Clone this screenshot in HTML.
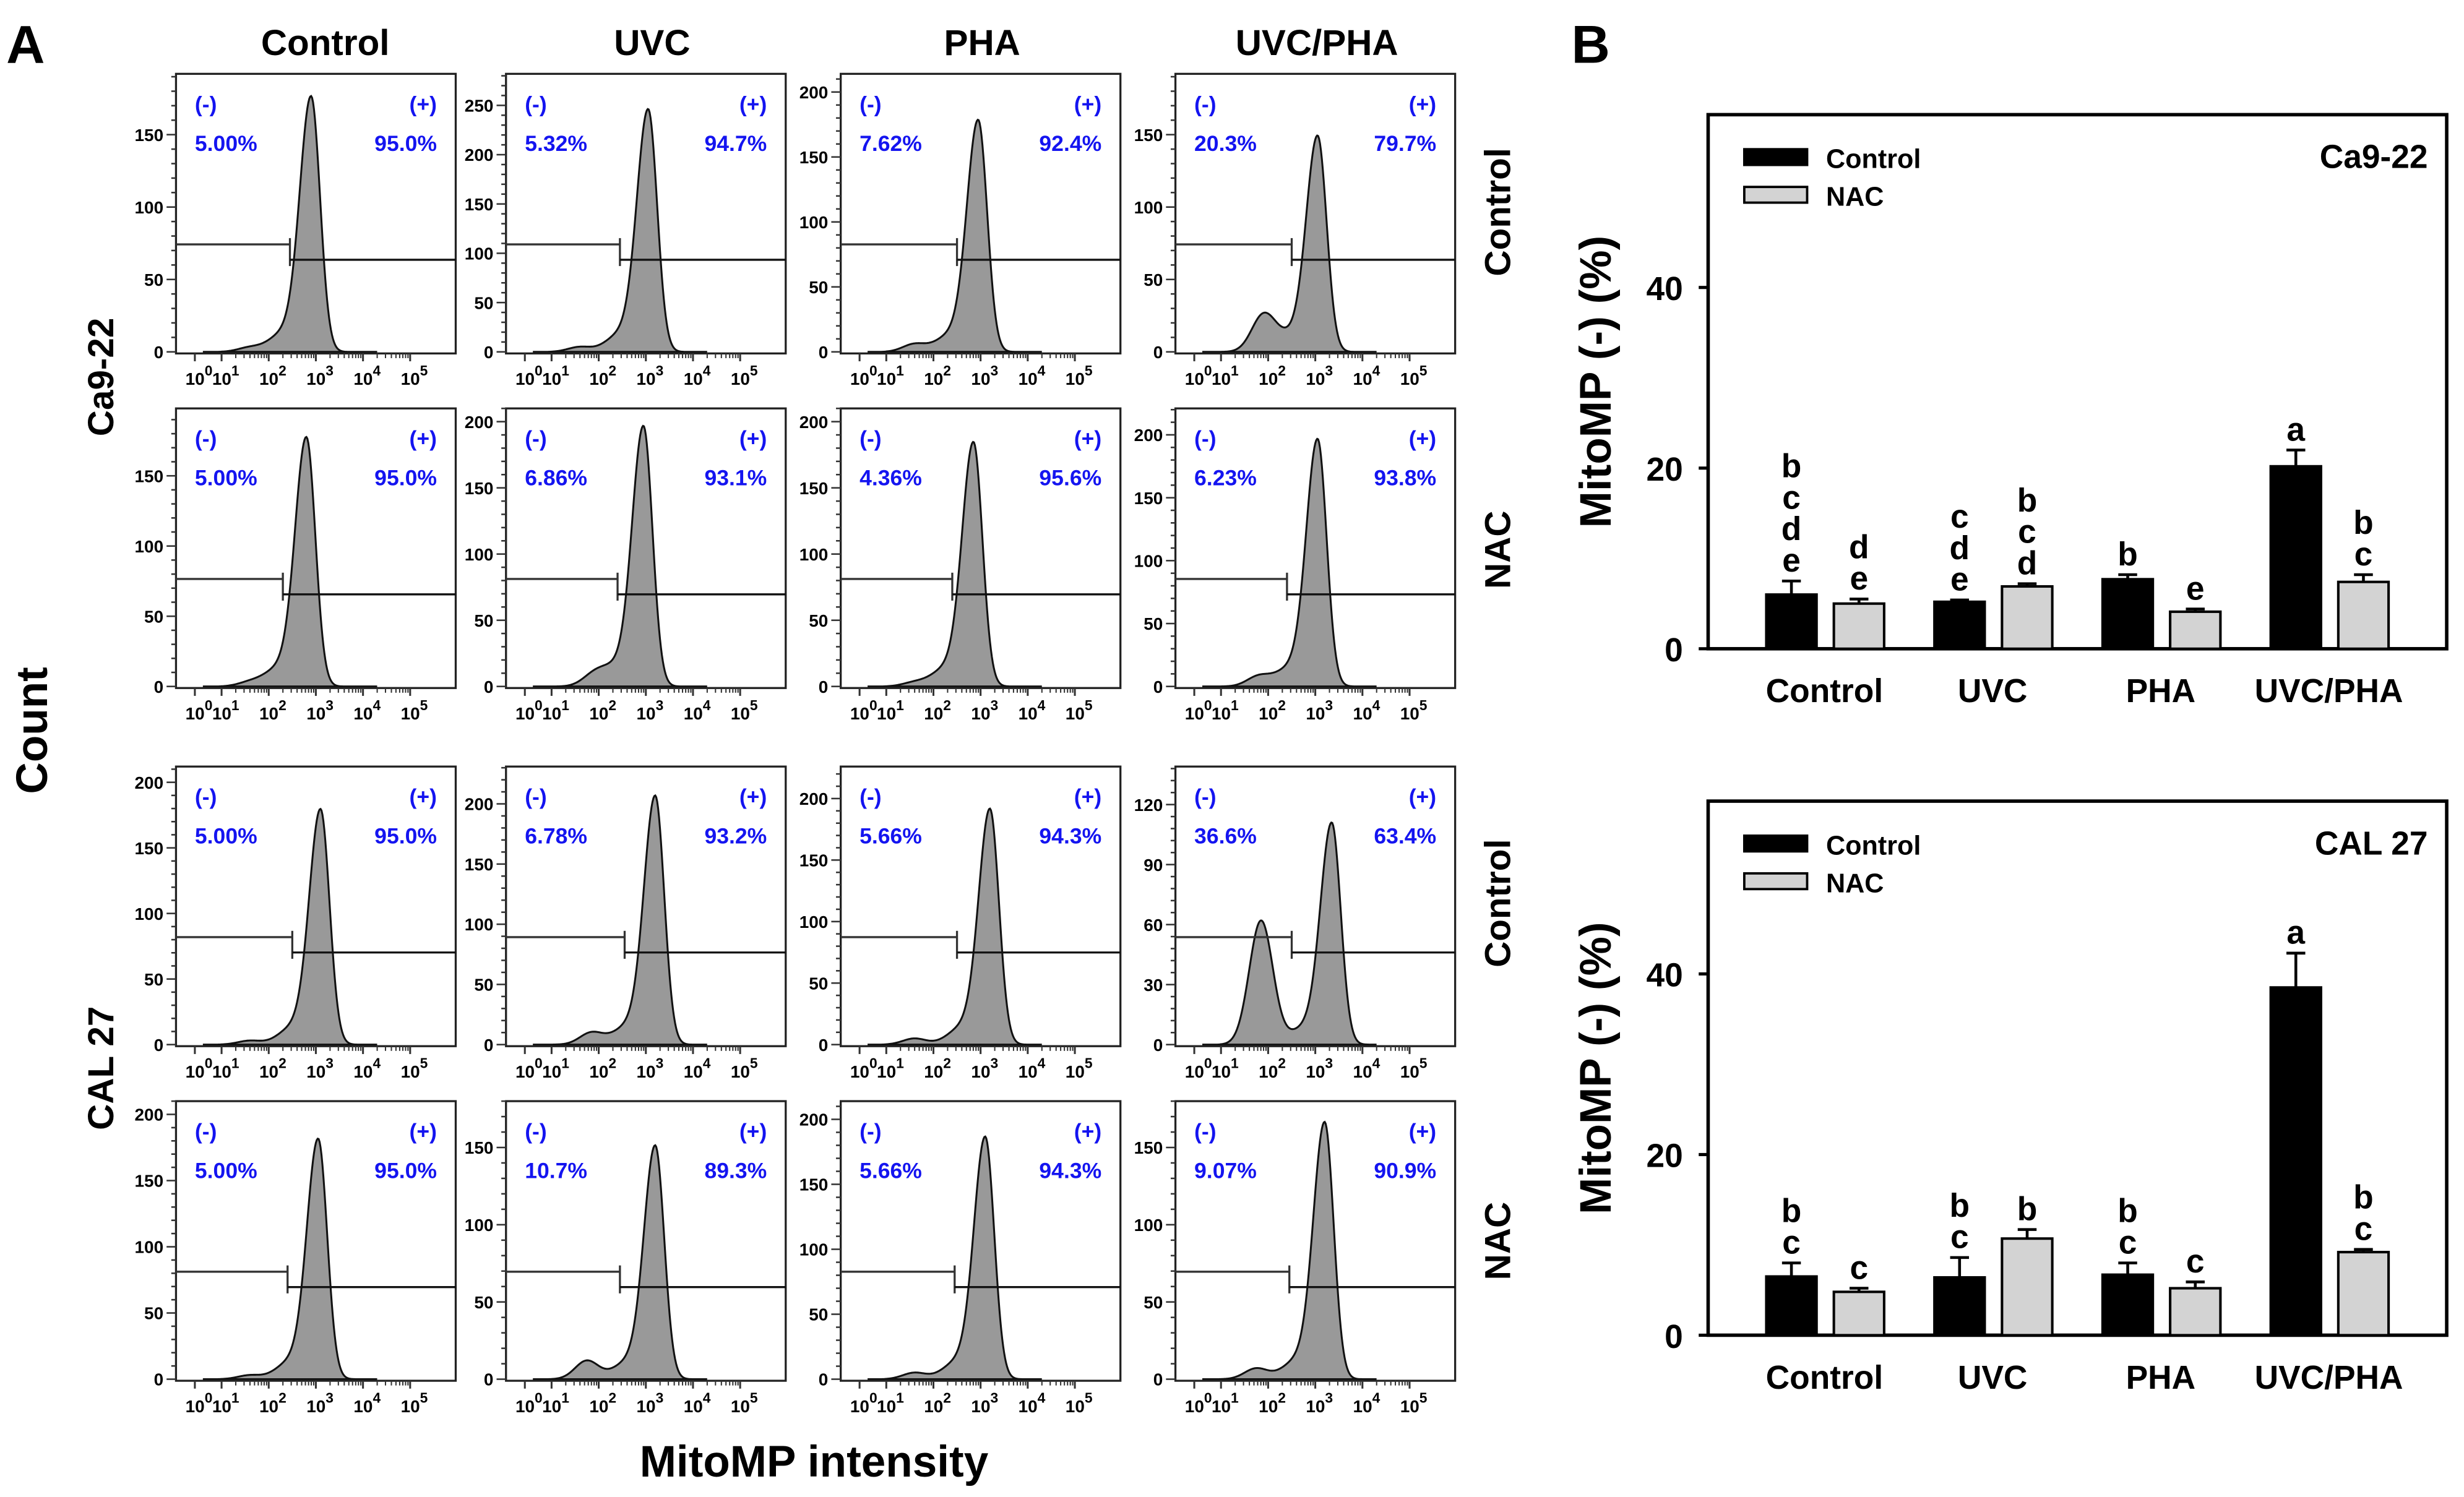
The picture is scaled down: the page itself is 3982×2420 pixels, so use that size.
<!DOCTYPE html>
<html><head><meta charset="utf-8">
<style>
html,body{margin:0;padding:0;background:#fff;}
svg{display:block;}
text{font-family:"Liberation Sans",sans-serif;}
</style></head>
<body>
<svg id="fig" xmlns="http://www.w3.org/2000/svg" width="3982" height="2420" viewBox="0 0 1568 953" preserveAspectRatio="none">
<rect x="0" y="0" width="1568" height="953" fill="#fff"/>
<text x="4" y="40" font-size="34" font-weight="bold">A</text>
<text x="1000" y="40" font-size="34" font-weight="bold">B</text>
<text x="207" y="35" font-size="23" font-weight="bold" text-anchor="middle">Control</text>
<text x="415" y="35" font-size="23" font-weight="bold" text-anchor="middle">UVC</text>
<text x="625" y="35" font-size="23" font-weight="bold" text-anchor="middle">PHA</text>
<text x="838" y="35" font-size="23" font-weight="bold" text-anchor="middle">UVC/PHA</text>
<text transform="translate(72,240) rotate(-90)" font-size="23" font-weight="bold" text-anchor="middle">Ca9-22</text>
<text transform="translate(72,680) rotate(-90)" font-size="23" font-weight="bold" text-anchor="middle">CAL 27</text>
<text transform="translate(30,465) rotate(-90)" font-size="28" font-weight="bold" text-anchor="middle">Count</text>
<text x="518" y="940" font-size="28" font-weight="bold" text-anchor="middle">MitoMP intensity</text>
<text transform="translate(961,135) rotate(-90)" font-size="23" font-weight="bold" text-anchor="middle">Control</text>
<text transform="translate(961,350) rotate(-90)" font-size="23" font-weight="bold" text-anchor="middle">NAC</text>
<text transform="translate(961,575) rotate(-90)" font-size="23" font-weight="bold" text-anchor="middle">Control</text>
<text transform="translate(961,790) rotate(-90)" font-size="23" font-weight="bold" text-anchor="middle">NAC</text>
</svg>
<script>
// ---------- Panel A histogram data ----------
const histNeg = ["5.00%","5.32%","7.62%","20.3%","5.00%","6.86%","4.36%","6.23%","5.00%","6.78%","5.66%","36.6%","5.00%","10.7%","5.66%","9.07%"];
const histPos = ["95.0%","94.7%","92.4%","79.7%","95.0%","93.1%","95.6%","93.8%","95.0%","93.2%","94.3%","63.4%","95.0%","89.3%","94.3%","90.9%"];
const histYTop = [192,282,214,192, 198,210,210,221, 212,231,226,139, 210,180,214,180];
const histTickStep = [50,50,50,50, 50,50,50,50, 50,50,50,30, 50,50,50,50];
const histMainPos = [2.9,3.05,2.95,3.05, 2.8,2.95,2.85,3.05, 3.1,3.2,3.2,3.35, 3.05,3.2,3.1,3.2];
const histMainH = [175,244,177,148, 176,195,183,195, 178,205,190,110, 180,150,185,165];
const histSecPos = [1.6,1.6,1.6,1.9, 1.6,1.9,1.6,1.8, 1.6,1.85,1.6,1.85, 1.6,1.75,1.6,1.75];
const histSecH = [3,5,6,25, 3,8,3,8, 3,10,5,62, 3,12,5,7];
const histGate = [2.45,2.45,2.5,2.5, 2.3,2.4,2.4,2.4, 2.5,2.55,2.5,2.5, 2.4,2.45,2.45,2.45];
const yTicks = [0,30,50,60,90,100,120,150,200,250];
// ---------- Panel B data ----------
const categories = ["Control","UVC","PHA","UVC/PHA"];
const ca922Ctrl = [6.0,5.2,7.7,20.2];
const ca922CtrlErr = [1.5,0.2,0.5,1.8];
const ca922Nac = [5.0,6.9,4.1,7.4];
const ca922NacErr = [0.5,0.3,0.3,0.8];
const cal27Ctrl = [6.5,6.4,6.7,38.5];
const cal27CtrlErr = [1.5,2.2,1.3,3.8];
const cal27Nac = [4.8,10.7,5.2,9.2];
const cal27NacErr = [0.4,1.0,0.7,0.3];
const ca922CtrlLetters = ["bcde","cde","b","a"];
const ca922NacLetters = ["de","bcd","e","bc"];
const cal27CtrlLetters = ["bc","bc","bc","a"];
const cal27NacLetters = ["c","b","c","bc"];
const barTicks = [0,20,40];

const svg = document.getElementById('fig');
const NS = 'http://www.w3.org/2000/svg';
function mk(tag, attrs, parent){
  const e = document.createElementNS(NS, tag);
  for (const k in attrs) e.setAttribute(k, attrs[k]);
  (parent||svg).appendChild(e);
  return e;
}
const colL = [112,322,535,748];
const rowT = [47,260,488,701];
const PW = 178, PH = 178;

for (let i=0;i<16;i++){
  const r = Math.floor(i/4), c = i%4;
  const L = colL[c], T = rowT[r];
  const g = mk('g',{});
  
  
  const y0 = T+PH-1;
  const ys = v => y0 - v*(PH-1)/histYTop[i];
  const xs = v => v>=1 ? L+29+30*(v-1) : L+12+17*v;
  let d = 'M'+xs(0.3)+','+ys(0);
  for (let v=0.3; v<=4.3; v+=0.02){
    const mp = histMainPos[i];
    const sm = v < mp ? 0.24 : 0.19;
    let h = histMainH[i]*Math.exp(-0.5*Math.pow((v-mp)/sm,2));
    h += histMainH[i]*0.07*Math.exp(-0.5*Math.pow((v-(mp-0.6))/0.3,2));
    h += histSecH[i]*Math.exp(-0.5*Math.pow((v-histSecPos[i])/0.25,2));
    d += ' L'+xs(v).toFixed(2)+','+ys(h).toFixed(2);
  }
  d += ' L'+xs(4.3)+','+ys(0)+' Z';
  const p = mk('path',{d:d, fill:'#999', stroke:'#111', 'stroke-width':1.2}, g);
  
  
  const b = mk('rect',{x:L,y:T,width:PW,height:PH,fill:'none',stroke:'#222','stroke-width':1.3}, g);
  
  
  const step = histTickStep[i];
  for (let v=0; v<=histYTop[i]; v+=step/5){
    const y = ys(v);
    const major = Math.abs(v/step - Math.round(v/step))<1e-6;
    mk('line',{x1:L-(major?6:3),x2:L,y1:y,y2:y,stroke:'#333','stroke-width':1}, g);
  }
  for (const v of yTicks){
    if (v % step !== 0 || v > histYTop[i]) continue;
    const t = mk('text',{x:L-8,y:ys(v)+4,'font-size':11,'font-weight':'bold','text-anchor':'end'}, g);
    t.textContent = v;
    
    
  }
  for (let dcd=0; dcd<=5; dcd++){
    const x = xs(dcd);
    mk('line',{x1:x,x2:x,y1:T+PH,y2:T+PH+5,stroke:'#333','stroke-width':1.2}, g);
    if (dcd>=1 && dcd<5) for (let m=2;m<10;m++){
      const xm = xs(dcd+Math.log10(m));
      mk('line',{x1:xm,x2:xm,y1:T+PH,y2:T+PH+3,stroke:'#333','stroke-width':0.8}, g);
    }
    const t = mk('text',{x:x-6,y:T+PH+20,'font-size':11,'font-weight':'bold'}, g);
    t.textContent = '10';
    const sp = mk('tspan',{dy:-6,'font-size':9}, t);
    sp.textContent = dcd;
    
    
  }
  const gx = xs(histGate[i]);
  const gl = T+PH*0.61, gr = T+PH*0.665;
  mk('line',{x1:L,x2:gx,y1:gl,y2:gl,stroke:'#333','stroke-width':1.3}, g);
  mk('line',{x1:gx,x2:gx,y1:gl-4,y2:gr+4,stroke:'#333','stroke-width':1.3}, g);
  mk('line',{x1:gx,x2:L+PW,y1:gr,y2:gr,stroke:'#111','stroke-width':1.3}, g);
  const lab = [['(-)',L+12,T+24,'start','neg-gate-label'],[histNeg[i],L+12,T+49,'start','neg-percent'],
               ['(+)',L+166,T+24,'end','pos-gate-label'],[histPos[i],L+166,T+49,'end','pos-percent']];
  for (const [s,x,y,a,n] of lab){
    const t = mk('text',{x:x,y:y,'font-size':14,'font-weight':'bold',fill:'#1414f0','text-anchor':a}, g);
    t.textContent = s;
    
    
  }
}

function barChart(off, title, ctrl, ctrlErr, nac, nacErr, ctrlLet, nacLet, key){
  const g = mk('g',{});
  
  
  const L=1087, R=1557, T=73+off, B=413+off;
  const ys = v => B - v*5.75;
  const catX = [1161,1268,1375,1482];
  const fr = mk('rect',{x:L,y:T,width:R-L,height:B-T,fill:'none',stroke:'#000','stroke-width':2.2}, g);
  
  
  for (const v of barTicks){
    mk('line',{x1:L-6,x2:L,y1:ys(v),y2:ys(v),stroke:'#000','stroke-width':2}, g);
    const t = mk('text',{x:L-16,y:ys(v)+8,'font-size':21,'font-weight':'bold','text-anchor':'end'}, g);
    t.textContent = v;
    
    
  }
  const yt = mk('text',{transform:'translate(1025,'+((T+B)/2)+') rotate(-90)','font-size':28,'font-weight':'bold','text-anchor':'middle'}, g);
  yt.textContent = 'MitoMP (-) (%)';
  
  
  const series = [[ctrl,ctrlErr,ctrlLet,'#000',-21,'control'],[nac,nacErr,nacLet,'#d3d3d3',22,'nac']];
  for (let k=0;k<categories.length;k++){
    const ct = mk('text',{x:catX[k],y:B+34,'font-size':21,'font-weight':'bold','text-anchor':'middle'}, g);
    ct.textContent = categories[k];
    
    
    for (const [vals,errs,lets,col,dx,nm] of series){
      const cx = catX[k]+dx, w=32;
      const top = ys(vals[k]), et = ys(vals[k]+errs[k]);
      mk('line',{x1:cx,x2:cx,y1:top,y2:et,stroke:'#000','stroke-width':1.8}, g);
      mk('line',{x1:cx-6,x2:cx+6,y1:et,y2:et,stroke:'#000','stroke-width':1.8}, g);
      const bar = mk('rect',{x:cx-w/2,y:top,width:w,height:B-top,fill:col,stroke:'#000','stroke-width':1.6}, g);
      
      
      const s = lets[k];
      for (let j=0;j<s.length;j++){
        const t = mk('text',{x:cx,y:et-6-(s.length-1-j)*20,'font-size':21,'font-weight':'bold','text-anchor':'middle'}, g);
        t.textContent = s[j];
        
        
      }
    }
  }
  mk('rect',{x:1110,y:T+22,width:40,height:10,fill:'#000',stroke:'#000','stroke-width':1.5}, g);
  mk('rect',{x:1110,y:T+46,width:40,height:10,fill:'#d3d3d3',stroke:'#000','stroke-width':1.5}, g);
  const l1 = mk('text',{x:1162,y:T+34,'font-size':17,'font-weight':'bold'}, g);
  l1.textContent='Control';
  
  
  const l2 = mk('text',{x:1162,y:T+58,'font-size':17,'font-weight':'bold'}, g);
  l2.textContent='NAC';
  
  
  const tt = mk('text',{x:1545,y:T+34,'font-size':21,'font-weight':'bold','text-anchor':'end'}, g);
  tt.textContent = title;
  
  
}
barChart(0,'Ca9-22',ca922Ctrl,ca922CtrlErr,ca922Nac,ca922NacErr,ca922CtrlLetters,ca922NacLetters,'ca922');
barChart(437,'CAL 27',cal27Ctrl,cal27CtrlErr,cal27Nac,cal27NacErr,cal27CtrlLetters,cal27NacLetters,'cal27');
</script>
</body></html>
